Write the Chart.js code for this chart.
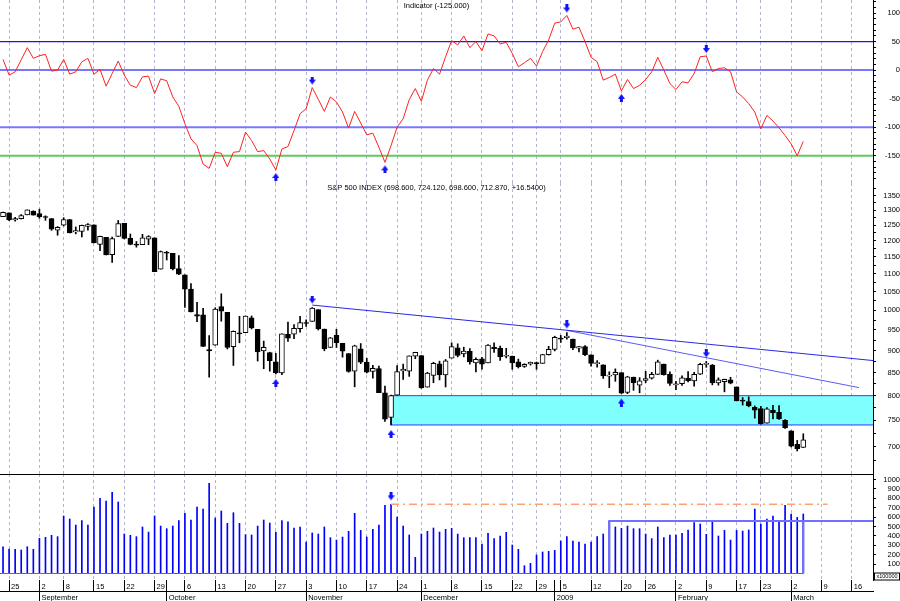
<!DOCTYPE html>
<html><head><meta charset="utf-8">
<script src="https://cdn.jsdelivr.net/npm/chart.js@4.4.1/dist/chart.umd.min.js"></script>
<style>
html,body{margin:0;padding:0;background:#fff;width:900px;height:601px;overflow:hidden}
canvas{position:absolute;left:0;display:block}
</style></head><body>
<canvas id="cInd" width="900" height="183" style="top:0px"></canvas>
<canvas id="cPx" width="900" height="291" style="top:183px"></canvas>
<canvas id="cVol" width="900" height="127" style="top:474px"></canvas>
<script>
// ---------------- DATA ----------------
// trading days Aug 22 2008 (index 0) ... Mar 4 2009 (index 132)
const opens = [1277.59,1290.47,1267.03,1271.29,1283.79,1296.49,1287.83,1276.61,1271.80,1233.21,
1249.50,1267.98,1227.50,1229.04,1245.88,1250.92,1188.31,1210.34,1157.08,1213.11,
1255.37,1207.61,1188.79,1187.87,1204.47,1209.07,1113.78,1164.17,1160.64,1115.16,
1097.56,1057.60,988.91,988.42,902.31,912.75,1009.97,994.60,909.53,942.29,
943.51,980.40,951.67,899.08,895.22,874.28,848.92,939.51,939.38,953.11,
968.67,971.31,1001.84,952.40,907.44,936.75,917.15,893.39,853.13,904.36,
873.23,852.34,859.03,805.87,755.84,801.20,853.40,852.90,886.89,888.61,
817.94,843.60,869.75,844.43,882.71,906.48,892.17,898.35,871.79,881.07,
871.53,908.16,905.98,886.96,887.20,874.31,863.87,869.51,872.37,870.58,
890.59,902.99,929.17,931.17,927.45,905.73,909.91,890.40,869.79,867.28,
841.99,844.45,849.64,806.77,839.74,822.16,832.50,837.30,845.73,868.89,
845.69,823.09,825.69,837.77,831.75,846.09,868.24,866.87,827.41,829.91,
833.95,818.61,791.06,787.91,775.87,773.25,744.69,770.64,765.76,749.93,
729.57,704.44,698.60];
const highs = [1293.09,1290.47,1275.65,1285.05,1300.68,1297.59,1303.04,1280.60,1271.80,1244.94,
1274.42,1268.66,1243.90,1249.98,1255.09,1250.92,1214.84,1210.34,1211.14,1265.12,
1255.37,1221.15,1197.41,1220.03,1215.77,1209.07,1168.03,1167.03,1160.64,1153.82,
1097.56,1072.91,1021.06,1005.25,936.36,1006.93,1044.31,994.60,947.71,984.64,
985.40,985.44,951.67,922.83,896.30,893.78,940.51,969.97,963.23,984.38,
975.57,1007.51,1001.84,952.40,931.46,951.95,917.15,893.39,913.01,916.88,
882.29,865.90,864.57,820.52,801.20,865.60,868.94,887.68,896.25,888.61,
850.54,873.12,875.60,879.42,918.57,916.26,908.27,904.63,883.24,884.63,
914.66,918.85,911.02,905.47,887.37,880.44,869.79,873.74,873.70,891.12,
910.32,934.73,936.63,943.85,927.45,910.00,911.93,890.40,877.02,867.28,
851.59,858.13,849.64,841.72,839.74,838.61,852.53,850.45,877.86,868.89,
851.66,830.78,842.60,851.85,850.55,870.75,875.01,868.05,838.22,835.48,
839.43,818.61,796.17,797.58,778.69,777.85,775.49,780.12,779.42,751.27,
729.57,711.67,724.12];
const lows = [1277.59,1264.87,1263.21,1270.03,1283.79,1282.74,1272.20,1265.59,1232.83,1217.23,
1247.12,1224.51,1221.60,1211.54,1233.81,1192.70,1169.28,1155.88,1133.50,1213.11,
1205.61,1187.06,1179.79,1187.87,1187.54,1106.39,1113.78,1140.77,1111.43,1098.14,
1007.97,996.23,970.97,909.19,839.80,912.75,972.07,903.99,865.83,918.74,
943.51,952.47,875.81,858.44,852.85,846.75,845.27,922.26,928.50,944.59,
958.82,971.31,949.86,899.73,907.44,907.47,884.90,850.48,818.69,869.88,
848.98,837.54,806.18,747.78,741.02,801.20,834.99,841.37,881.21,815.69,
817.94,827.60,833.60,818.41,882.71,885.38,885.45,868.73,851.35,857.72,
871.53,895.94,877.44,883.02,857.09,860.10,861.44,866.52,857.07,870.58,
889.67,899.35,919.53,927.28,902.37,896.81,888.31,864.32,862.02,836.93,
817.04,830.66,804.47,804.30,811.29,806.07,827.69,835.40,845.73,844.15,
821.67,812.87,821.98,829.18,819.91,845.42,861.65,822.99,822.30,808.06,
825.21,789.17,780.43,777.03,754.25,742.37,744.69,752.89,751.75,734.52,
699.70,692.30,698.60];
const closes = [1292.20,1266.84,1271.51,1281.66,1300.68,1282.83,1277.58,1274.98,1236.83,1242.31,
1267.79,1224.51,1232.04,1249.05,1251.70,1192.70,1213.60,1156.39,1206.51,1255.08,
1207.09,1188.22,1185.87,1209.18,1213.27,1106.39,1166.36,1161.06,1114.28,1099.23,
1056.89,996.23,984.94,909.92,899.22,1003.35,998.01,907.84,946.43,940.55,
985.40,955.05,896.78,908.11,876.77,848.92,940.51,930.09,954.09,968.75,
966.30,1005.75,952.77,904.88,930.99,919.21,898.95,852.30,911.29,873.29,
850.75,859.12,806.58,752.44,800.03,851.81,857.39,887.68,896.24,816.21,
848.81,870.74,845.22,876.07,909.70,888.67,899.24,873.59,879.73,868.57,
913.18,904.42,885.28,887.88,871.63,863.16,868.15,872.80,869.42,890.64,
903.25,931.80,927.45,934.70,906.65,909.73,890.35,870.26,871.79,842.62,
843.74,850.12,805.22,840.24,827.50,831.95,836.57,845.71,874.09,845.14,
825.88,825.44,838.51,832.23,845.85,868.60,869.89,827.16,833.74,835.19,
826.84,789.17,788.42,778.94,770.05,743.33,773.14,764.90,752.83,735.09,
700.82,696.33,712.87];
const indicator = [18.8,-8.8,-2.9,18.2,39.4,20.6,25.3,27.6,-1.8,0,
18.8,-7.1,-2.9,14.7,20.6,-7.1,1.2,-28.2,-5.9,15.9,
-8.8,-26.5,-30.6,-11.8,-10.6,-41.2,-15.3,-18.8,-47.1,-63.5,
-94.1,-120.6,-132.4,-164.7,-172.4,-144.1,-145.9,-169.4,-144.1,-142.9,
-108.8,-123.5,-142.9,-141.2,-155.9,-175.3,-138.2,-134.1,-105.9,-76.5,
-67.6,-30.6,-51.2,-72.4,-47.1,-55.9,-73.5,-101.7,-72.4,-92.9,
-113.5,-110.6,-135.3,-161.8,-132.4,-100,-85.3,-51.8,-32.4,-54.7,
-17.6,2.9,-7.1,23.5,51.8,44.1,60,39.4,50,34.1,
63.5,60,45.9,48.8,29.4,5.9,12.9,20.6,7.1,32.4,
52.9,82.4,84.7,95.9,71.8,75.3,50,22.4,14.7,-17.6,
-12.9,-7.1,-36.5,-16.5,-32.4,-26.5,-16.5,-2.9,22.4,0,
-23.5,-34.1,-20.6,-22.4,-5.9,23.5,24.7,-2.9,2.9,4.1,
-2.9,-38.2,-47.1,-58.8,-73.5,-102.9,-79.4,-89.4,-101.2,-114.7,
-129.4,-150,-125];
const volume = [285,261,257,250,285,257,374,385,406,392,
612,580,516,562,516,707,800,771,863,761,
420,406,392,495,441,612,505,477,505,562,
640,569,707,686,959,590,665,534,647,534,
413,410,505,569,537,441,562,551,484,495,
335,431,420,495,381,356,388,449,640,459,
388,470,516,725,736,601,505,410,172,420,
449,484,441,470,480,420,381,381,381,314,
427,371,399,438,303,257,83,108,197,229,
236,246,346,392,346,335,314,335,392,420,
558,495,480,505,477,477,420,371,495,381,
410,410,427,463,541,527,417,559,399,459,
356,459,452,463,686,527,580,612,559,725,
633,597,633];
// x-axis: first trading day of each week, and of each month
const dayTickIdx = [1,6,10,15,20,25,30,35,40,45,50,55,60,65,69,74,79,84,88,92,97,102,106,111,116,121,125,130,135,140];
const dayTickLabels = ['25','2','8','15','22','29','6','13','20','27','3','10','17','24','1','8','15','22','29','5','12','20','26','2','9','17','23','2','9','16'];
const monthStartIdx = [6,27,50,69,91,111,130];
const monthLabels = ['September','October','November','December','2009','February','March'];
// indicator reference levels
const indicatorLevels = [50, 0, -100, -150];
// signal arrows
const indDownIdx = [51, 93, 116];
const indUpIdx = [45, 63, 102];
const pxDownIdx = [51, 93, 116];
const pxUpIdx = [45, 64, 102];
const volDownIdx = [64];
// support zone (low and close of Nov 21)
const zoneStartIdx = 64;
const zoneRange = [741.02, 800.03];
// resistance trend lines [index, price]
const trendA = [[51, 1014], [143.5, 877]];
const trendB = [[93, 949], [141.2, 817]];
// volume reference lines
const volOrangeIdx = [64, 136];
const volBoxIdx = [100, 132];
const volUnitLabel = 'x100000';

// ---------------- HELPERS ----------------
const FONT = "'Liberation Sans', Arial, sans-serif";
const GRID = '#b4b4cc';
const X_MIN = -0.5, X_MAX = 143.5;
const LAST = closes.length - 1;

function makeArrow(dir, gap) {
  const w = 7, ah = 8, h = 2 * (ah + gap);
  const c = document.createElement('canvas'); c.width = w; c.height = h;
  const g = c.getContext('2d'); g.fillStyle = '#1010ff';
  if (dir === 'down') {
    g.fillRect(2, 0, 3, 4);
    g.beginPath(); g.moveTo(0, 3); g.lineTo(7, 3); g.lineTo(3.5, 8); g.closePath(); g.fill();
  } else {
    const y0 = h - ah;
    g.fillRect(2, y0 + 4, 3, 4);
    g.beginPath(); g.moveTo(0, y0 + 5); g.lineTo(7, y0 + 5); g.lineTo(3.5, y0); g.closePath(); g.fill();
  }
  return c;
}

const baseOpts = {
  responsive: false, animation: false, devicePixelRatio: 1, events: [],
  layout: { padding: 0, autoPadding: false },
  plugins: { legend: { display: false }, tooltip: { enabled: false }, title: { display: false } }
};

function hiddenX() {
  return {
    type: 'linear', min: X_MIN, max: X_MAX, bounds: 'data', offset: false,
    afterBuildTicks: s => { s.ticks = dayTickIdx.map(v => ({ value: v })); },
    ticks: { display: false, autoSkip: false },
    grid: { offset: false, color: GRID, lineWidth: 1, drawTicks: false },
    border: { display: false, dash: [3, 3] },
    afterFit: s => { s.height = 0; s.paddingLeft = 0; s.paddingRight = 0; }
  };
}

function rightY(o) {
  return Object.assign({
    position: 'right', bounds: 'data', beginAtZero: false,
    afterBuildTicks: s => { s.ticks = o.tickVals.map(v => ({ value: v })); },
    ticks: { autoSkip: false, callback: o.label, font: { family: FONT, size: 7.5 }, color: '#000',
             crossAlign: 'far', padding: o.pad },
    grid: { drawOnChartArea: false, drawTicks: true, tickLength: 3, tickColor: '#000', color: '#000' },
    border: { display: true, color: '#000', width: 1 },
    afterFit: s => { s.width = 27; s.paddingTop = 0; s.paddingBottom = 0; }
  }, o.scale);
}

function range(a, b, step) { const r = []; for (let v = a; v <= b + 1e-9; v += step) r.push(v); return r; }

function hline(y, x0, x1, color, width, extra) {
  return Object.assign({ type: 'line', data: [{ x: x0, y }, { x: x1, y }], borderColor: color,
    borderWidth: width, pointRadius: 0, fill: false, tension: 0 }, extra || {});
}

function textPlugin(id, textFn, yOff) {
  return { id, afterDraw(c) {
    const g = c.ctx; g.save();
    g.font = '7.5px ' + FONT; g.fillStyle = '#000'; g.textAlign = 'center'; g.textBaseline = 'middle';
    g.fillText(textFn(), (c.chartArea.left + c.chartArea.right) / 2, yOff);
    g.restore();
  } };
}

// ---------------- INDICATOR PANEL ----------------
const indTitle = 'Indicator (' + indicator[LAST].toFixed(3) + ')';
const levelStyles = [['#1818e8', 1.2], ['#7878ff', 2], ['#7878ff', 2], ['#60c860', 2]];
new Chart(document.getElementById('cInd'), {
  type: 'line',
  data: { datasets: [
    { data: indicator.map((v, i) => ({ x: i, y: v })), borderColor: '#ff2020', borderWidth: 1,
      pointRadius: 0, tension: 0, fill: false, order: 1 },
    ...indicatorLevels.map((L, k) => hline(L, X_MIN, X_MAX, levelStyles[k][0], levelStyles[k][1], { order: 2 })),
    { data: indDownIdx.map(i => ({ x: i, y: indicator[i] })), showLine: false, pointStyle: makeArrow('down', 3), pointRadius: 4, order: 0 },
    { data: indUpIdx.map(i => ({ x: i, y: indicator[i] })), showLine: false, pointStyle: makeArrow('up', 3), pointRadius: 4, order: 0 }
  ] },
  options: Object.assign({}, baseOpts, {
    scales: {
      x: hiddenX(),
      y: rightY({ tickVals: range(-190, 120, 10), pad: 6.5,
        label: v => (v % 50 === 0 && v >= -150 && v <= 100) ? String(v) : '',
        scale: { type: 'linear', min: -198, max: 123 } })
    }
  }),
  plugins: [textPlugin('indTitle', () => indTitle, 5.5)]
});

// ---------------- PRICE PANEL ----------------
const chg = closes[LAST] - closes[LAST - 1];
const pxTitle = 'S&P 500 INDEX (' + [opens[LAST], highs[LAST], lows[LAST], closes[LAST]].map(v => v.toFixed(3)).join(', ') +
  ', ' + (chg >= 0 ? '+' : '') + chg.toFixed(4) + ')';
const idx = closes.map((_, i) => i);
new Chart(document.getElementById('cPx'), {
  type: 'bar',
  data: { datasets: [
    hline(zoneRange[1], zoneStartIdx, X_MAX, '#3838ff', 1, { fill: { value: zoneRange[0] }, backgroundColor: '#80ffff', order: 10 }),
    hline(zoneRange[0], zoneStartIdx, X_MAX, '#3838ff', 1, { order: 9 }),
    { type: 'line', data: [{ x: zoneStartIdx, y: zoneRange[0] }, { x: zoneStartIdx, y: zoneRange[1] }],
      borderColor: '#3838ff', borderWidth: 1, pointRadius: 0, fill: false, order: 9 },
    { type: 'bar', data: idx.map(i => ({ x: i, y: [lows[i], highs[i]] })), backgroundColor: '#000',
      borderWidth: 0, barThickness: 1, grouped: false, order: 3 },
    { type: 'bar', data: idx.map(i => ({ x: i, y: [Math.min(opens[i], closes[i]), Math.max(opens[i], closes[i])] })),
      backgroundColor: idx.map(i => closes[i] >= opens[i] ? '#ffffff' : '#000000'),
      borderColor: '#000', borderWidth: 1, borderSkipped: false, barThickness: 5, minBarLength: 1,
      grouped: false, order: 2 },
    { type: 'line', data: trendA.map(p => ({ x: p[0], y: p[1] })), borderColor: '#2828e8', borderWidth: 1, pointRadius: 0, fill: false, order: 1 },
    { type: 'line', data: trendB.map(p => ({ x: p[0], y: p[1] })), borderColor: '#5a5af5', borderWidth: 1, pointRadius: 0, fill: false, order: 1 },
    { type: 'line', data: pxDownIdx.map(i => ({ x: i, y: highs[i] })), showLine: false, pointStyle: makeArrow('down', 4), pointRadius: 4, order: 0 },
    { type: 'line', data: pxUpIdx.map(i => ({ x: i, y: lows[i] })), showLine: false, pointStyle: makeArrow('up', 5), pointRadius: 4, order: 0 }
  ] },
  options: Object.assign({}, baseOpts, {
    scales: {
      x: hiddenX(),
      y: rightY({ tickVals: range(675, 1375, 25), pad: 4.8,
        label: v => (v % 50 === 0 && v >= 700 && v <= 1350) ? String(v) : '',
        scale: { type: 'logarithmic', min: 651.8, max: 1395.4 } })
    }
  }),
  plugins: [textPlugin('pxTitle', () => pxTitle, 5)]
});

// ---------------- VOLUME PANEL + DATE AXIS ----------------
const dayLabelMap = {}; dayTickIdx.forEach((v, k) => { dayLabelMap[v] = dayTickLabels[k]; });
const monthLabelMap = {}; monthStartIdx.forEach((v, k) => { monthLabelMap[v] = monthLabels[k]; });
const weekSet = new Set(dayTickIdx);
const dayAxisTicks = Array.from(new Set(dayTickIdx.concat(monthStartIdx))).sort((a, b) => a - b);
const volBoxLevel = volume[volBoxIdx[0]];
const volOrangeLevel = volume[volOrangeIdx[0]];

const volFrame = { id: 'volFrame', afterDraw(c) {
  const g = c.ctx, a = c.chartArea; g.save();
  g.strokeStyle = '#000'; g.lineWidth = 1;
  g.beginPath(); g.moveTo(a.left, a.top + 0.5); g.lineTo(a.right, a.top + 0.5); g.stroke();
  const yS = c.scales.y; const y0 = yS.getPixelForValue(0);
  g.fillStyle = '#fff'; g.fillRect(a.right + 1, y0 - 1, 26, 8);
  g.strokeStyle = '#000'; g.strokeRect(a.right + 1.5, y0 - 0.5, 25, 7);
  g.fillStyle = '#000'; g.font = '5.5px ' + FONT; g.textAlign = 'center'; g.textBaseline = 'middle';
  g.fillText(volUnitLabel, a.right + 14, y0 + 3);
  g.restore();
} };

new Chart(document.getElementById('cVol'), {
  type: 'bar',
  data: { datasets: [
    { type: 'bar', data: volume.map((v, i) => ({ x: i, y: v })), backgroundColor: '#0000ff',
      borderWidth: 0, barThickness: 1, grouped: false, order: 3 },
    hline(0, X_MIN, LAST, '#ff3030', 1, { order: 1 }),
    hline(volOrangeLevel, volOrangeIdx[0], volOrangeIdx[1], '#ffa070', 1.5, { borderDash: [8, 4, 2, 4], order: 1 }),
    { type: 'line', data: [{ x: volBoxIdx[0], y: 0 }, { x: volBoxIdx[0], y: volBoxLevel }, { x: X_MAX, y: volBoxLevel }],
      borderColor: '#7070ff', borderWidth: 2, pointRadius: 0, fill: false, order: 2 },
    { type: 'line', data: [{ x: volBoxIdx[1], y: volBoxLevel }, { x: volBoxIdx[1], y: 0 }],
      borderColor: '#7070ff', borderWidth: 2, pointRadius: 0, fill: false, order: 2 },
    { type: 'line', data: volDownIdx.map(i => ({ x: i, y: volume[i] })), showLine: false,
      pointStyle: makeArrow('down', 4), pointRadius: 4, order: 0 }
  ] },
  options: Object.assign({}, baseOpts, {
    scales: {
      x: {
        type: 'linear', position: 'bottom', weight: 0, min: X_MIN, max: X_MAX, bounds: 'data', offset: false,
        afterBuildTicks: s => { s.ticks = dayAxisTicks.map(v => ({ value: v })); },
        ticks: { autoSkip: false, maxRotation: 0, minRotation: 0, align: 'start', labelOffset: 2, padding: -8.5,
                 font: { family: FONT, size: 7.5 }, color: '#000', callback: v => dayLabelMap[v] || '' },
        grid: { offset: false, lineWidth: 1, drawTicks: true, tickLength: 11, tickColor: '#000', tickWidth: 1,
                tickBorderDash: [],
                color: ctx => (ctx.tick && weekSet.has(ctx.tick.value)) ? GRID : 'rgba(0,0,0,0)' },
        border: { display: false, dash: [3, 3] },
        afterFit: s => { s.height = 11; s.paddingLeft = 0; s.paddingRight = 0; }
      },
      xm: {
        type: 'linear', position: 'bottom', weight: 1, min: X_MIN, max: X_MAX, bounds: 'data', offset: false,
        afterBuildTicks: s => { s.ticks = monthStartIdx.map(v => ({ value: v })); },
        ticks: { autoSkip: false, maxRotation: 0, minRotation: 0, align: 'start', labelOffset: 2, padding: -7.8,
                 font: { family: FONT, size: 7.5 }, color: '#000', callback: v => monthLabelMap[v] || '' },
        grid: { offset: false, drawOnChartArea: false, drawTicks: true, tickLength: 10, tickColor: '#000', color: '#000' },
        border: { display: true, color: '#000', width: 1 },
        afterFit: s => { s.height = 10; s.paddingLeft = 0; s.paddingRight = 0; }
      },
      y: rightY({ tickVals: range(0, 1000, 100), pad: 4.8,
        label: v => (v >= 100) ? String(v) : '',
        scale: { type: 'linear', min: -69, max: 1058.5 } })
    }
  }),
  plugins: [volFrame]
});
</script>
</body></html>
